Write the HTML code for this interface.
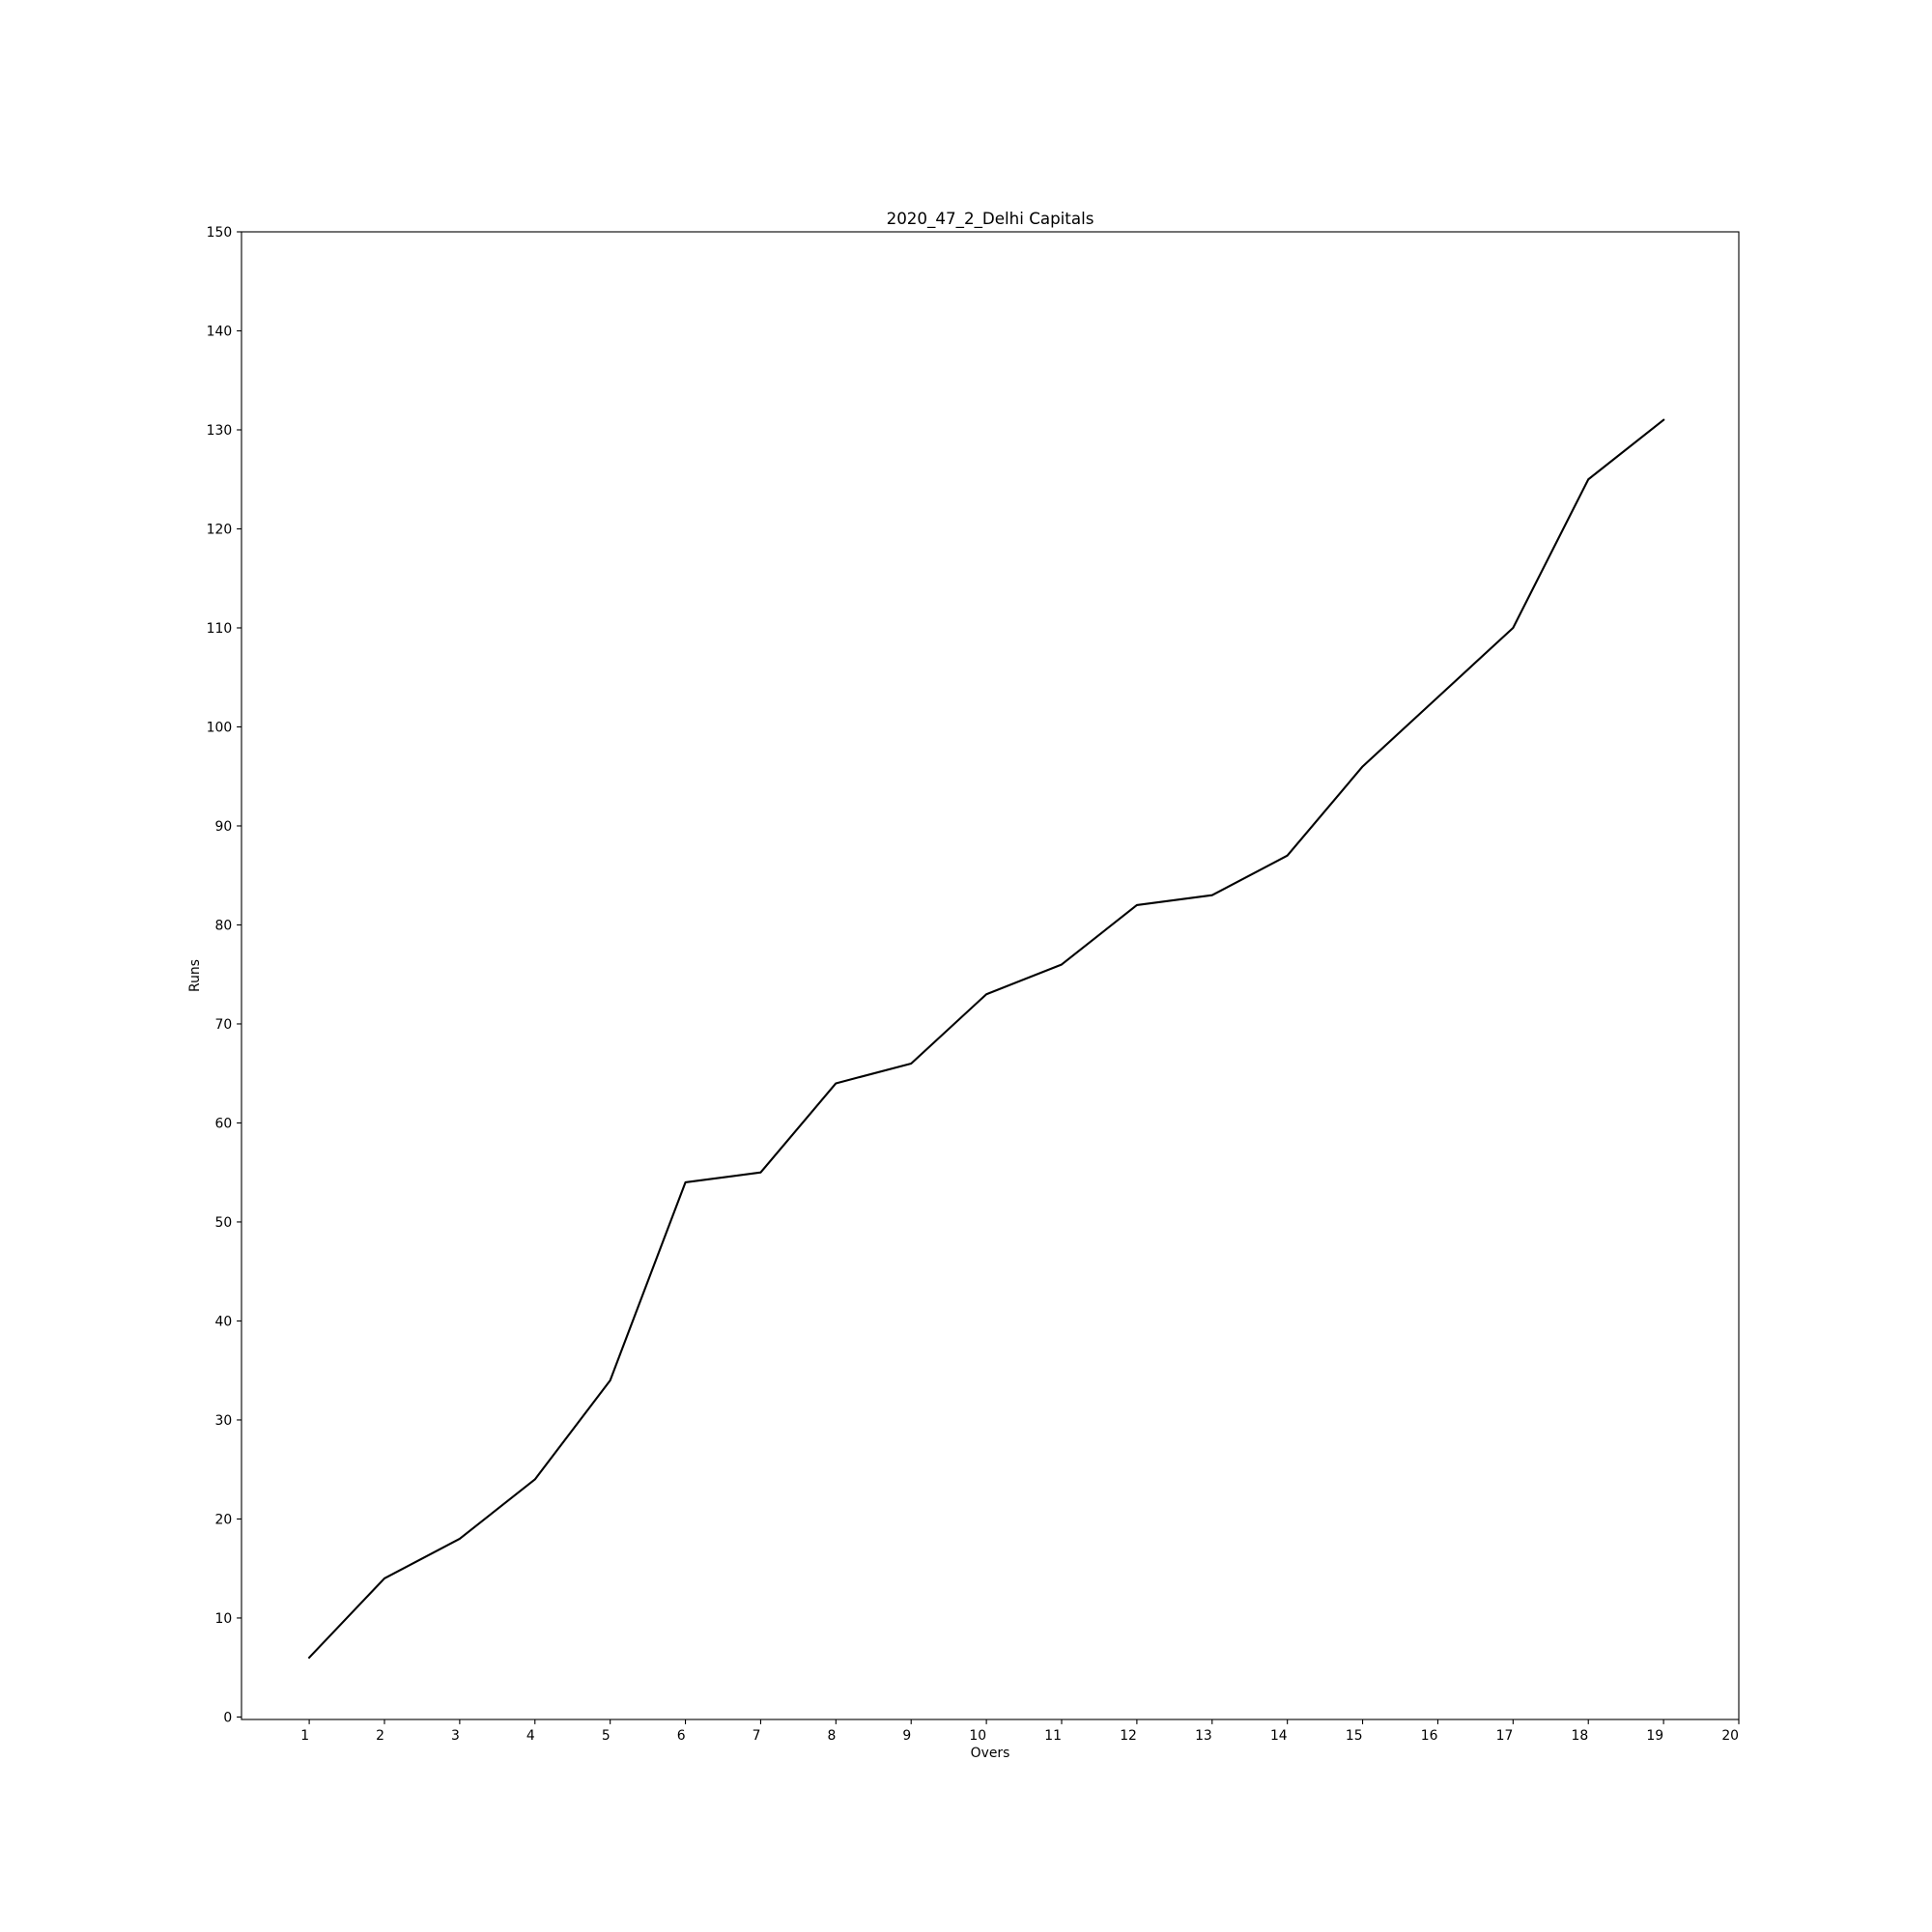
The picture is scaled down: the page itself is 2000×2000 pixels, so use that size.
<!DOCTYPE html>
<html><head><meta charset="utf-8"><style>
html,body{margin:0;padding:0;background:#fff;}
svg{display:block;font-family:"DejaVu Sans","Liberation Sans",sans-serif;}
</style></head><body>
<svg id="chart" width="2000" height="2000" viewBox="0 0 2000 2000" xmlns="http://www.w3.org/2000/svg">
<rect width="2000" height="2000" fill="#fff"/>
<g id="plot"></g>
</svg>
<script>
const overs = [1,2,3,4,5,6,7,8,9,10,11,12,13,14,15,16,17,18,19];
const runs = [6,14,18,24,34,54,55,64,66,73,76,82,83,87,96,103,110,125,131];
const xTicks = [1,2,3,4,5,6,7,8,9,10,11,12,13,14,15,16,17,18,19,20];
const yTicks = [0,10,20,30,40,50,60,70,80,90,100,110,120,130,140,150];
const titleText = "2020_47_2_Delhi Capitals";

const L=250,R=1800,T=240,B=1780;
const xMin=0.1,xMax=20,yMin=-0.25,yMax=150;
const sx=v=>L+(v-xMin)/(xMax-xMin)*(R-L);
const sy=v=>B-(v-yMin)/(yMax-yMin)*(B-T);
const NS="http://www.w3.org/2000/svg";
const g=document.getElementById('plot');
function mk(tag,attrs,parent){const e=document.createElementNS(NS,tag);for(const k in attrs)e.setAttribute(k,attrs[k]);(parent||g).appendChild(e);return e;}

const pts=overs.map((o,i)=>sx(o).toFixed(2)+','+sy(runs[i]).toFixed(2)).join(' ');
const line=mk('polyline',{points:pts,fill:'none',stroke:'#000','stroke-width':2.1,'stroke-linejoin':'round','stroke-linecap':'square'});



const frame=mk('rect',{x:L,y:T,width:R-L,height:B-T,fill:'none',stroke:'#000','stroke-width':1.1});



xTicks.forEach(t=>{
  const x=sx(t);
  mk('line',{x1:x,y1:B,x2:x,y2:B+4.9,stroke:'#000','stroke-width':1.1});
  const tx=mk('text',{x:x,y:B+21,'text-anchor':'end','font-size':13.9,fill:'#000'});
  tx.textContent=t;
  
  
});
yTicks.forEach(t=>{
  const y=sy(t);
  mk('line',{x1:L,y1:y,x2:L-4.9,y2:y,stroke:'#000','stroke-width':1.1});
  const tx=mk('text',{x:L-9.8,y:y+5,'text-anchor':'end','font-size':13.9,fill:'#000'});
  tx.textContent=t;
  
  
});
const title=mk('text',{x:(L+R)/2,y:T-8,'text-anchor':'middle','font-size':16.7,fill:'#000'});
title.textContent=titleText;


const xl=mk('text',{x:(L+R)/2,y:B+39,'text-anchor':'middle','font-size':13.9,fill:'#000'});
xl.textContent="Overs";


const yl=mk('text',{x:0,y:0,'text-anchor':'middle','font-size':13.9,fill:'#000',transform:`translate(206,${(T+B)/2}) rotate(-90)`});
yl.textContent="Runs";


</script>
</body></html>
